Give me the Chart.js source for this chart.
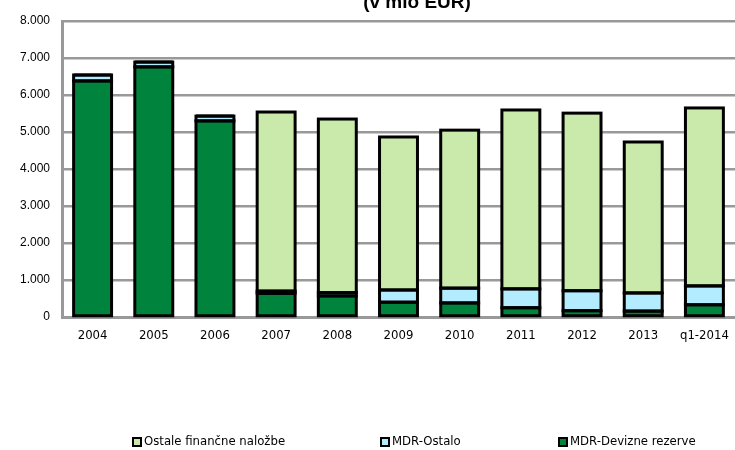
<!DOCTYPE html>
<html>
<head>
<meta charset="utf-8">
<script src="https://cdn.jsdelivr.net/npm/chart.js@4"></script>
<style>
  html, body { margin: 0; padding: 0; background: #fff; }
  #wrap { width: 735px; height: 450px; }
</style>
</head>
<body>
<div id="wrap"><canvas id="grafikon"></canvas></div>
<script>
const leta = ['2004', '2005', '2006', '2007', '2008', '2009', '2010', '2011', '2012', '2013', 'q1-2014'];
const devizneRezerve = [6380, 6760, 5300, 640, 570, 400, 380, 250, 170, 160, 330];
const mdrOstalo = [160, 130, 130, 60, 90, 330, 400, 510, 540, 490, 510];
const ostaleNalozbe = [0, 0, 0, 4840, 4690, 4135, 4270, 4835, 4800, 4080, 4810];

const narrow = "'DejaVu Sans Condensed', 'Liberation Sans Narrow', Arial, sans-serif";

// naslov je v originalu odrezan na vrhu
const naslov = {
  id: 'naslov',
  afterDraw(chart) {
    const c = chart.ctx;
    c.save();
    c.font = "bold 19px 'Liberation Sans', Arial, sans-serif";
    c.fillStyle = '#000';
    c.textAlign = 'center';
    c.textBaseline = 'middle';
    c.fillText('(v mio EUR)', 417, 3);
    c.restore();
  }
};

// obrobe stolpcev kot v Excelu (črta na robu, ne znotraj)
const obrobe = {
  id: 'obrobe',
  afterDatasetsDraw(chart) {
    const c = chart.ctx;
    c.save();
    c.strokeStyle = '#000';
    c.lineWidth = 3;
    chart.data.datasets.forEach((ds, i) => {
      chart.getDatasetMeta(i).data.forEach(bar => {
        const p = bar.getProps(['x', 'y', 'base', 'width'], true);
        c.strokeRect(p.x - p.width / 2, p.y, p.width, p.base - p.y);
      });
    });
    c.restore();
  }
};

// legenda: trije elementi, razmaknjeni kot v originalu
const legenda = {
  id: 'legenda',
  afterDraw(chart) {
    const c = chart.ctx;
    const items = [2, 1, 0];
    const xs = [132, 380, 558];
    c.save();
    c.font = "13px " + narrow;
    c.textBaseline = 'middle';
    items.forEach((di, k) => {
      const ds = chart.data.datasets[di];
      c.fillStyle = ds.backgroundColor;
      c.fillRect(xs[k] + 1, 438, 8, 8);
      c.lineWidth = 2;
      c.strokeStyle = '#000';
      c.strokeRect(xs[k] + 1, 438, 8, 8);
      c.fillStyle = '#000';
      c.fillText(ds.label, xs[k] + 12, 442);
    });
    c.restore();
  }
};

new Chart(document.getElementById('grafikon'), {
  type: 'bar',
  data: {
    labels: leta,
    datasets: [{
      label: 'MDR-Devizne rezerve',
      data: devizneRezerve,
      backgroundColor: '#00843d',
      borderWidth: 0
    }, {
      label: 'MDR-Ostalo',
      data: mdrOstalo,
      backgroundColor: '#b3ebff',
      borderWidth: 0
    }, {
      label: 'Ostale finančne naložbe',
      data: ostaleNalozbe,
      backgroundColor: '#caeaab',
      borderWidth: 0
    }]
  },
  options: {
    responsive: true,
    maintainAspectRatio: false,
    animation: false,
    datasets: {
      bar: { barPercentage: 0.62, categoryPercentage: 1 }
    },
    layout: { padding: { top: 21, left: 0, right: 0, bottom: 100 } },
    scales: {
      x: {
        stacked: true,
        grid: { display: false },
        border: { color: '#999', width: 3 },
        ticks: { color: '#000', font: { family: narrow, size: 13 }, padding: 3 },
        afterFit(scale) { scale.height = 33; }
      },
      y: {
        stacked: true,
        min: 0,
        max: 8000,
        grid: { color: '#999', lineWidth: 2.5, drawTicks: false },
        border: { color: '#999', width: 3 },
        ticks: {
          stepSize: 1000,
          autoSkip: false,
          color: '#000',
          padding: 12,
          font: { family: "'Liberation Sans', Arial, sans-serif", size: 12 },
          callback: v => v === 0 ? '0' : (v / 1000).toFixed(3)
        },
        afterFit(scale) { scale.width = 62; }
      }
    },
    plugins: {
      legend: { display: false },
      tooltip: { enabled: false }
    }
  },
  plugins: [naslov, obrobe, legenda]
});
</script>
</body>
</html>
